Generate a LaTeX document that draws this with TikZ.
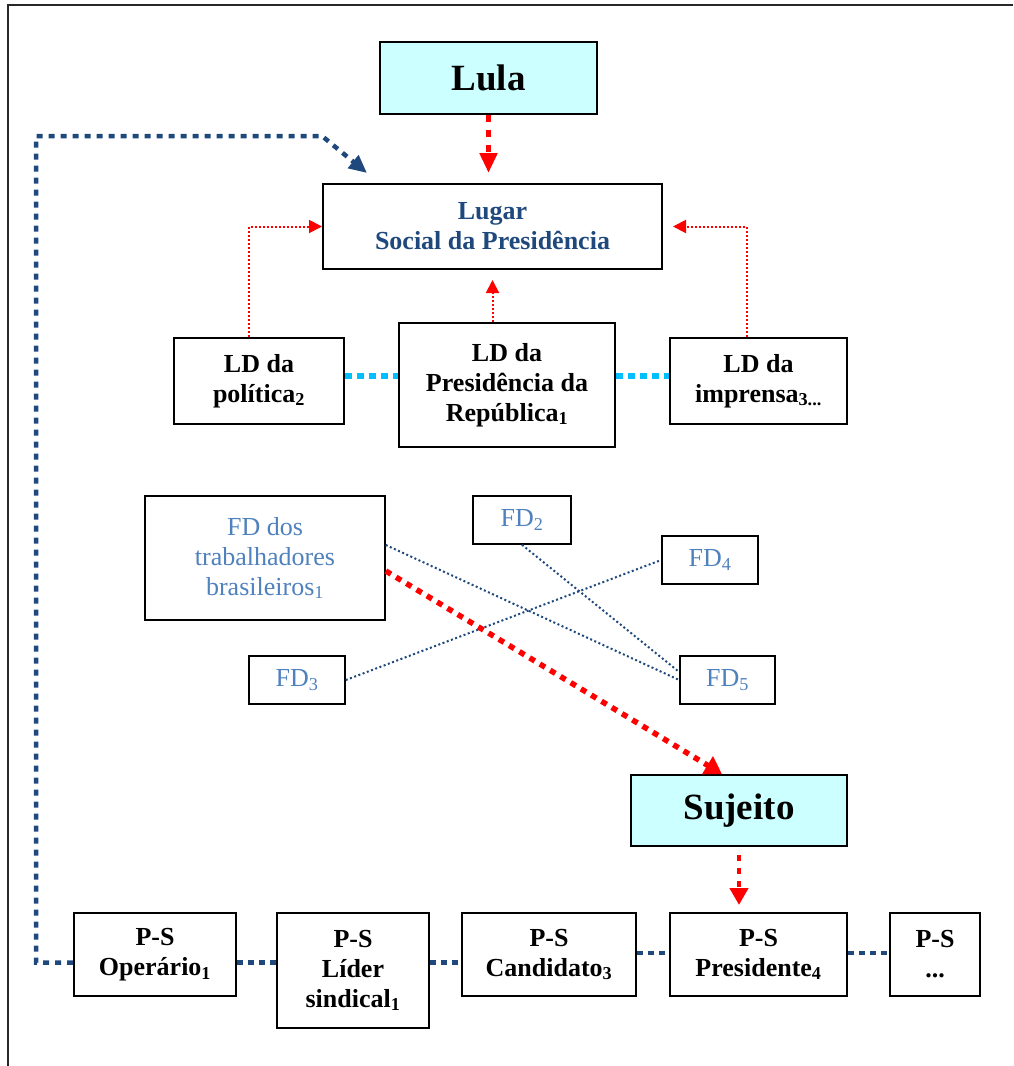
\documentclass[tikz,border=0pt]{standalone}
\usepackage{fontspec}
\setmainfont{Liberation Serif}
\usetikzlibrary{arrows.meta}
\definecolor{cyanfill}{RGB}{204,255,255}
\definecolor{navy}{RGB}{31,73,125}
\definecolor{fdblue}{RGB}{79,129,189}
\definecolor{cyanline}{RGB}{0,191,255}
\definecolor{framegray}{RGB}{40,40,40}
\tikzset{
  box/.style={draw=black, line width=2pt, rectangle, inner sep=0pt, align=center,
    font=\fontsize{26}{30}\selectfont\bfseries},
  bigbox/.style={box, fill=cyanfill, font=\fontsize{37}{40}\selectfont\bfseries},
  fdbox/.style={draw=black, line width=1.6pt, rectangle, inner sep=0pt, align=center,
    text=fdblue, font=\fontsize{26}{30}\selectfont},
  redthick/.style={draw=red, line width=5pt, dash pattern=on 7pt off 8pt,
    -{Triangle[length=20pt,width=17pt]}},
  redthin/.style={draw=red, line width=2pt, dash pattern=on 2pt off 2pt,
    -{Triangle[length=13pt,width=13pt]}},
  reddots/.style={draw=red, line width=5.5pt, dash pattern=on 6pt off 6pt,
    -{Triangle[length=17pt,width=20pt]}},
  bluelong/.style={draw=navy, line width=4.5pt, dash pattern=on 6pt off 6pt,
    -{Triangle[length=18pt,width=16pt]}},
  bluechain/.style={draw=navy, line width=4.5pt, dash pattern=on 6pt off 5pt},
  cyanchain/.style={draw=cyanline, line width=5.5pt, dash pattern=on 7pt off 5pt},
  fdline/.style={draw=navy, line width=2pt, dash pattern=on 2pt off 2.5pt},
}
\begin{document}
\begin{tikzpicture}[x=1pt,y=-1pt]
\useasboundingbox (0,0) rectangle (1013,1066);
\draw[framegray, line width=2pt] (8,1066) -- (8,5) -- (1013,5);

\node[bigbox, minimum width=217pt, minimum height=72pt] (lula) at (488.5,77.5) {Lula};
\node[box, text=navy, minimum width=339pt, minimum height=85pt] (lugar) at (492.5,226.5) {Lugar\\Social da Presidência};
\node[box, minimum width=170pt, minimum height=86pt] (polit) at (259,381) {LD da\\política\textsubscript{2}};
\node[box, minimum width=216pt, minimum height=124pt] (pres) at (507,385) {LD da\\Presidência da\\República\textsubscript{1}};
\node[box, minimum width=177pt, minimum height=86pt] (impr) at (758.5,381) {LD da\\imprensa\textsubscript{3...}};

\node[fdbox, minimum width=240pt, minimum height=124pt] (fd1) at (265,558) {FD dos\\trabalhadores\\brasileiros\textsubscript{1}};
\node[fdbox, minimum width=98pt, minimum height=48pt] (fd2) at (522,520) {FD\textsubscript{2}};
\node[fdbox, minimum width=96pt, minimum height=48pt] (fd4) at (710,560) {FD\textsubscript{4}};
\node[fdbox, minimum width=96pt, minimum height=48pt] (fd3) at (297,680) {FD\textsubscript{3}};
\node[fdbox, minimum width=95pt, minimum height=48pt] (fd5) at (727.5,680) {FD\textsubscript{5}};

\node[bigbox, minimum width=216pt, minimum height=71pt] (suj) at (739,810.5) {Sujeito};

\node[box, minimum width=162pt, minimum height=83pt] (ps1) at (155,954.5) {P-S\\Operário\textsubscript{1}};
\node[box, minimum width=152pt, minimum height=115pt] (ps2) at (353,970.5) {P-S\\Líder\\sindical\textsubscript{1}};
\node[box, minimum width=174pt, minimum height=83pt] (ps3) at (549,954.5) {P-S\\Candidato\textsubscript{3}};
\node[box, minimum width=177pt, minimum height=83pt] (ps4) at (758.5,954.5) {P-S\\Presidente\textsubscript{4}};
\node[box, minimum width=90pt, minimum height=83pt] (ps5) at (935,954.5) {P-S\\...};

% top arrows
\draw[redthick, shorten >=10pt] (lula.south) -- (lula.south |- lugar.north);
\draw[redthin] ([xshift=-10pt]polit.north) |- (lugar.west);
\draw[redthin, shorten >=10pt] ([xshift=-12pt]impr.north) |- (lugar.east);
\draw[redthin, shorten >=10pt] (pres.north -| lugar.south) -- (lugar.south);

% LD links
\draw[cyanchain] ([yshift=5pt]polit.east) -- ([yshift=5pt]polit.east -| pres.west);
\draw[cyanchain] ([yshift=5pt]impr.west -| pres.east) -- ([yshift=5pt]impr.west);

% FD links
\draw[fdline] ([yshift=13pt]fd1.east) -- (fd5.west);
\draw[fdline] (fd2.south) -- ([yshift=8pt]fd5.west);
\draw[fdline] (fd3.east) -- (fd4.west);
\draw[reddots] ([yshift=-13pt]fd1.east) -- ([xshift=-17pt]suj.north);

% Sujeito to Presidente
\draw[redthick, line width=4.5pt, dash pattern=on 6pt off 7pt, shorten <=8pt, shorten >=7pt,
  -{Triangle[length=17pt,width=18pt]}] (suj.south) -- (suj.south |- ps4.north);

% long blue connector
\coordinate (c1) at (36,136);
\coordinate (c2) at (322,136);
\coordinate (c3) at ([xshift=45pt,yshift=10pt]lugar.north west);
\draw[bluelong] ([yshift=-8pt]ps1.west) -| (c1) -- (c2) -- (c3);

% P-S chain
\draw[bluechain] ([yshift=-8pt]ps1.east) -- ([yshift=-8pt]ps1.east -| ps2.west);
\draw[bluechain] ([yshift=-8pt]ps3.west -| ps2.east) -- ([yshift=-8pt]ps3.west);
\draw[bluechain] ([yshift=1.5pt]ps3.east) -- ([yshift=1.5pt]ps4.west);
\draw[bluechain] ([yshift=1.5pt]ps4.east) -- ([yshift=1.5pt]ps5.west);
\end{tikzpicture}
\end{document}
